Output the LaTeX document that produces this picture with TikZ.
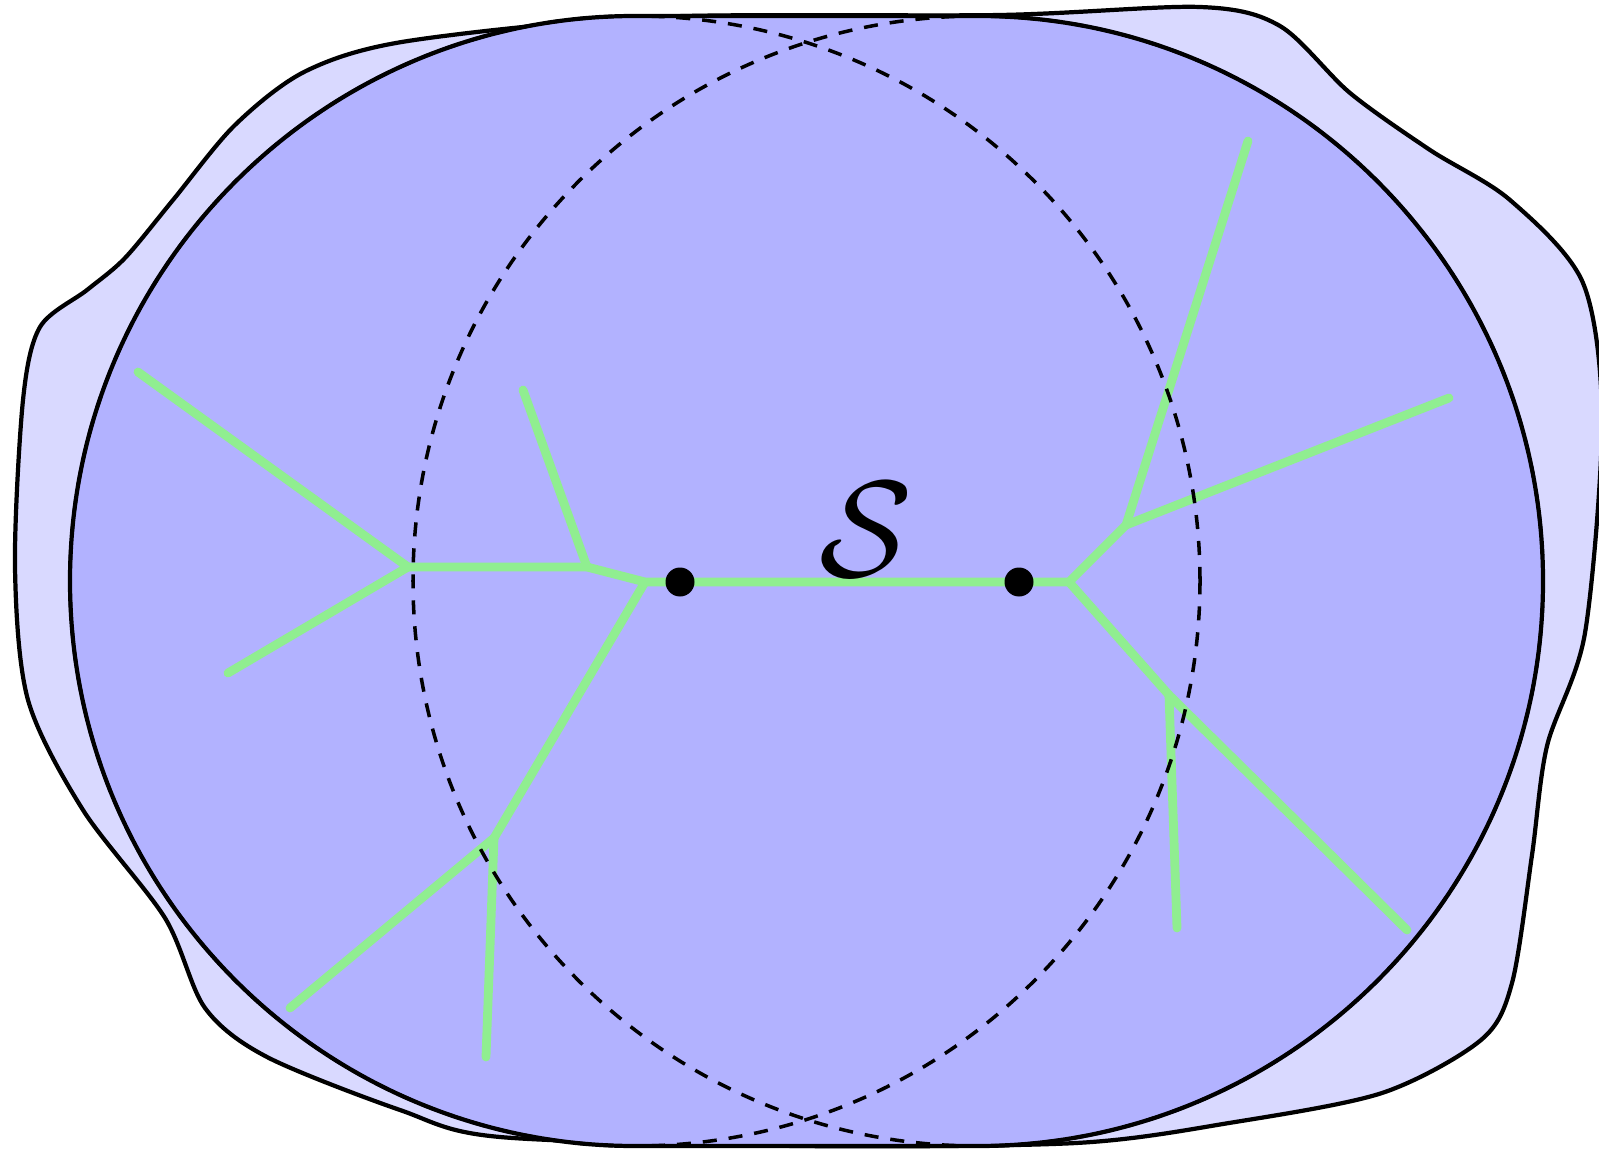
\documentclass[tikz,border=0pt]{standalone}
\usepackage{amsmath, amssymb}
\usetikzlibrary{positioning}
\definecolor{branchgreen}{RGB}{144,238,144}
\tikzset{
  outerblob/.style={draw, line width=1.2pt, fill=blue!15},
  hull/.style={draw, line width=1.2pt, fill=blue!30},
  guide/.style={line width=1pt, dash pattern=on 4pt off 3.4pt},
  branch/.style={draw=branchgreen, line width=2.5pt, line cap=round},
  site/.style={circle, fill=black, inner sep=0pt, minimum size=2.9mm}
}

\begin{document}
\begin{tikzpicture}
  \useasboundingbox (0,0) rectangle (15.99,11.48);
  % outer domain
  \draw[outerblob] plot[smooth cycle] coordinates {
    (10.00,11.33) (12.00,11.41) (12.80,11.22) (13.50,10.55) (14.30,9.98)
    (15.10,9.48) (15.83,8.65) (16.02,7.28) (15.85,5.15) (15.47,4.02)
    (15.32,2.93) (15.12,1.65) (14.81,1.08) (13.82,0.55) (12.29,0.25)
    (10.76,0.05) (8.00,0.02) (5.00,0.11) (4.00,0.38) (2.67,0.91)
    (2.05,1.40) (1.65,2.30) (0.83,3.38) (0.28,4.48) (0.15,5.81)
    (0.23,7.48) (0.40,8.21) (0.87,8.58) (1.25,8.90) (1.73,9.48)
    (2.35,10.23) (3.06,10.77) (4.08,11.07) (6.53,11.31)};
  % convex hull of the two discs
  \draw[hull] (6.35,11.32) -- (9.78,11.32) arc[start angle=90, end angle=-90, radius=5.65]
    -- (6.35,0.02) arc[start angle=270, end angle=90, radius=5.65] -- cycle;

  % tree
  \coordinate (ja) at (4.08,5.81);
  \coordinate (jb) at (5.87,5.81);
  \coordinate (jc) at (6.45,5.66);
  \coordinate (jd) at (4.94,3.10);
  \coordinate (je) at (10.69,5.66);
  \coordinate (jf) at (11.26,6.23);
  \coordinate (jg) at (11.69,4.53);
  \coordinate (ea1) at (1.38,7.76);
  \coordinate (ea2) at (2.28,4.75);
  \coordinate (eb) at (5.23,7.58);
  \coordinate (ed1) at (2.90,1.40);
  \coordinate (ed2) at (4.86,0.91);
  \coordinate (ef1) at (12.48,10.07);
  \coordinate (ef2) at (14.49,7.50);
  \coordinate (eg1) at (11.77,2.20);
  \coordinate (eg2) at (14.07,2.18);
  \draw[branch] (ea1) -- (ja) -- (ea2);
  \draw[branch] (ja) -- (jb) -- (jc) -- (je) -- (jf) -- (ef1);
  \draw[branch] (eb) -- (jb);
  \draw[branch] (jc) -- (jd) -- (ed1);
  \draw[branch] (jd) -- (ed2);
  \draw[branch] (je) -- (jg) -- (eg2);
  \draw[branch] (jg) -- (eg1);
  \draw[branch] (jf) -- (ef2);

  % the two discs
  \draw[guide] (6.35,5.67) circle[radius=5.65];
  \draw[guide] (9.78,5.67) circle[radius=5.65];

  \node[site] (p) at (6.80,5.66) {};
  \node[site] (q) at (10.19,5.66) {};
  \node[scale=3.9, anchor=base, inner sep=0pt] (lbl) at (8.66,5.72) {$\mathcal{S}$};
\end{tikzpicture}
\end{document}
